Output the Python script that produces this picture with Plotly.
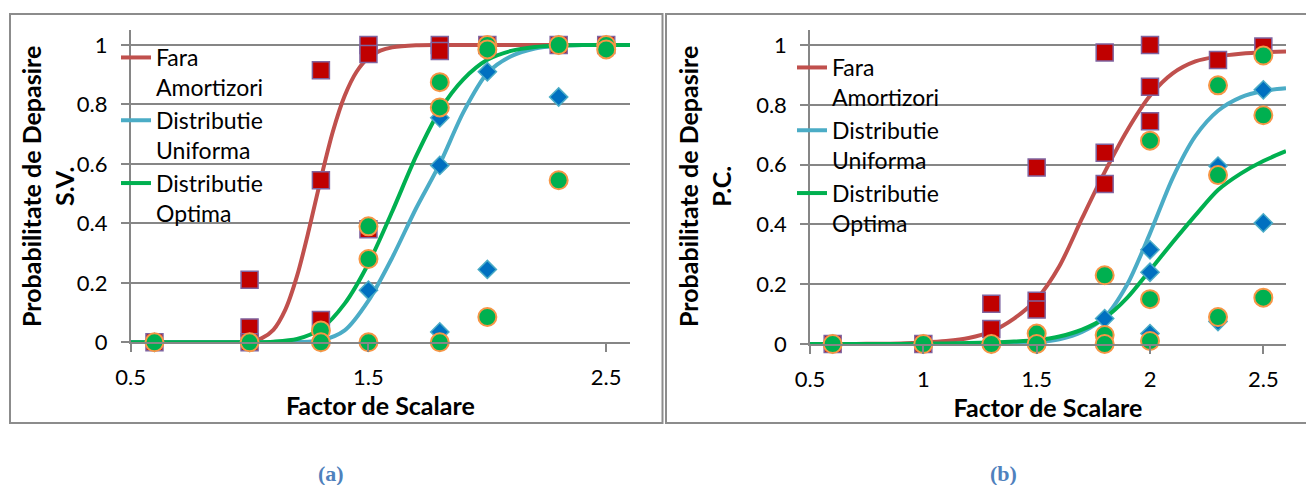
import plotly.graph_objects as go

W, H = 1306, 485

# ---------------- data: panel (a) S.V. ----------------
a_sq_x = [0.6, 1.0, 1.0, 1.0, 1.3, 1.3, 1.3, 1.5, 1.5, 1.5, 1.8, 1.8, 2.0, 2.3, 2.5]
a_sq_y = [0, 0.21, 0.05, 0, 0.915, 0.545, 0.075, 1.0, 0.97, 0.38, 1.0, 0.98, 1.0, 1.0, 1.0]
a_dm_x = [0.6, 1.0, 1.3, 1.5, 1.8, 1.8, 1.8, 2.0, 2.0, 2.3, 2.3, 2.5]
a_dm_y = [0, 0, 0, 0.175, 0.755, 0.595, 0.035, 0.91, 0.245, 1.0, 0.825, 1.0]
a_ci_x = [0.6, 1.0, 1.3, 1.3, 1.5, 1.5, 1.5, 1.8, 1.8, 1.8, 2.0, 2.0, 2.0, 2.3, 2.3, 2.5, 2.5]
a_ci_y = [0, 0, 0.04, 0, 0.39, 0.28, 0, 0.875, 0.79, 0, 1.0, 0.985, 0.085, 1.0, 0.545, 1.0, 0.985]

a_red_cx = [0.5, 0.6, 0.7, 0.8, 0.9, 1.0, 1.05, 1.1, 1.15, 1.2, 1.25, 1.3, 1.35, 1.4, 1.45,
            1.5, 1.55, 1.6, 1.7, 1.8, 2.0, 2.2, 2.4, 2.6]
a_red_cy = [0, 0, 0, 0, 0.0005, 0.003, 0.013, 0.042, 0.109, 0.224, 0.38, 0.551, 0.708, 0.829, 0.91,
            0.957, 0.981, 0.992, 0.999, 1, 1, 1, 1, 1]

curve_x = [0.5, 0.6, 0.7, 0.8, 0.9, 1.0, 1.1, 1.2, 1.3, 1.4, 1.5, 1.6, 1.7, 1.8, 1.9, 2.0,
           2.1, 2.2, 2.3, 2.4, 2.5, 2.6]
a_blue_cy = [0, 0, 0, 0, 0, 0, 0.0002, 0.001, 0.006, 0.04, 0.14, 0.285, 0.45, 0.6, 0.775, 0.905,
             0.962, 0.988, 0.997, 1, 1, 1]
a_green_cy = [0, 0, 0, 0, 0, 0.0002, 0.002, 0.011, 0.045, 0.13, 0.265, 0.44, 0.625, 0.78, 0.885, 0.95,
              0.98, 0.993, 0.998, 1, 1, 1]

# ---------------- data: panel (b) P.C. ----------------
b_sq_x = [0.6, 1.0, 1.3, 1.3, 1.5, 1.5, 1.5, 1.8, 1.8, 1.8, 2.0, 2.0, 2.0, 2.3, 2.5]
b_sq_y = [0, 0, 0.135, 0.05, 0.59, 0.145, 0.115, 0.975, 0.64, 0.535, 1.0, 0.86, 0.745, 0.95, 0.995]
b_dm_x = [0.6, 1.0, 1.3, 1.5, 1.8, 2.0, 2.0, 2.0, 2.3, 2.3, 2.5, 2.5]
b_dm_y = [0, 0, 0, 0, 0.085, 0.315, 0.24, 0.035, 0.595, 0.075, 0.85, 0.405]
b_ci_x = [0.6, 1.0, 1.3, 1.5, 1.5, 1.8, 1.8, 1.8, 2.0, 2.0, 2.0, 2.3, 2.3, 2.3, 2.5, 2.5, 2.5]
b_ci_y = [0, 0, 0, 0.035, 0, 0.23, 0.03, 0, 0.68, 0.15, 0.01, 0.865, 0.565, 0.09, 0.965, 0.765, 0.155]

b_red_cy = [0, 0, 0, 0.001, 0.002, 0.005, 0.01, 0.02, 0.042, 0.085, 0.15, 0.26, 0.42, 0.575, 0.715, 0.83,
            0.905, 0.945, 0.962, 0.971, 0.976, 0.978]
b_blue_cy = [0, 0, 0, 0, 0, 0, 0, 0.001, 0.002, 0.003, 0.006, 0.016, 0.04, 0.09, 0.2, 0.37,
             0.555, 0.695, 0.78, 0.825, 0.846, 0.855]
b_green_cy = [0, 0, 0, 0, 0, 0.001, 0.002, 0.003, 0.005, 0.008, 0.013, 0.025, 0.048, 0.087, 0.155, 0.247,
              0.34, 0.43, 0.515, 0.57, 0.612, 0.645]

series_names = ["Fara<br>Amortizori", "Distributie<br>Uniforma", "Distributie<br>Optima"]
y_titles = ["Probabilitate de Depasire<br>S.V.", "Probabilitate de Depasire<br>P.C."]
x_title = "Factor de Scalare"
captions = ["(a)", "(b)"]
y_ticks = [0, 0.2, 0.4, 0.6, 0.8, 1]
a_x_ticks = [0.5, 1.5, 2.5]
b_x_ticks = [0.5, 1, 1.5, 2, 2.5]

# ---------------- styles ----------------
FONT = "Lato"
LINE_COLORS = ["#C0504D", "#4BACC6", "#00B050"]
GRID = "#868686"

def px_x(p):
    return p / W

def px_y(p):
    return 1 - p / H

fig = go.Figure()

panels = [
    ("x", "y", "legend", [a_red_cx, curve_x, curve_x], [a_red_cy, a_blue_cy, a_green_cy],
     (a_sq_x, a_sq_y), (a_dm_x, a_dm_y), (a_ci_x, a_ci_y)),
    ("x2", "y2", "legend2", [curve_x, curve_x, curve_x], [b_red_cy, b_blue_cy, b_green_cy],
     (b_sq_x, b_sq_y), (b_dm_x, b_dm_y), (b_ci_x, b_ci_y)),
]

for xa, ya, leg, cxs, cys, sq, dm, ci in panels:
    for name, cx, cy, col in zip(series_names, cxs, cys, LINE_COLORS):
        fig.add_trace(go.Scatter(
            x=cx, y=cy, mode="lines", name=name, xaxis=xa, yaxis=ya, legend=leg,
            line=dict(color=col, width=4, shape="spline", smoothing=0.8),
            cliponaxis=False, hoverinfo="skip"))
    fig.add_trace(go.Scatter(
        x=sq[0], y=sq[1], mode="markers", xaxis=xa, yaxis=ya, showlegend=False,
        marker=dict(symbol="square", size=17, color="#C00000",
                    line=dict(color="#7F64A0", width=1.5)),
        cliponaxis=False))
    fig.add_trace(go.Scatter(
        x=dm[0], y=dm[1], mode="markers", xaxis=xa, yaxis=ya, showlegend=False,
        marker=dict(symbol="diamond", size=14, color="#0070C0",
                    line=dict(color="#4BACC6", width=1.5)),
        cliponaxis=False))
    fig.add_trace(go.Scatter(
        x=ci[0], y=ci[1], mode="markers", xaxis=xa, yaxis=ya, showlegend=False,
        marker=dict(symbol="circle", size=18, color="#00B050",
                    line=dict(color="#F79646", width=2)),
        cliponaxis=False))

tickfont = dict(family=FONT, size=22, color="black")
titlefont = dict(family=FONT, size=25, color="black", weight="bold")

def xaxis_cfg(domain, ticks, anchor):
    return dict(domain=domain, anchor=anchor, range=[0.5, 2.6], tickmode="array", tickvals=ticks,
                ticktext=[f"{t:g}" for t in ticks], automargin=False,
                ticks="outside", ticklen=8, tickwidth=1.5, tickcolor=GRID,
                showline=True, linecolor=GRID, linewidth=1.5, showgrid=False, zeroline=False,
                tickfont=tickfont, ticklabelstandoff=7,
                title=dict(text=f"<b>{x_title}</b>", font=titlefont, standoff=2))

def yaxis_cfg(domain, anchor):
    return dict(domain=domain, anchor=anchor, range=[0, 1.05], tickmode="array", tickvals=y_ticks,
                ticktext=[f"{t:g}" for t in y_ticks], automargin=False,
                ticks="outside", ticklen=8, tickwidth=1.5, tickcolor=GRID,
                showline=True, linecolor=GRID, linewidth=1.5,
                showgrid=True, gridcolor=GRID, gridwidth=1.5, zeroline=False,
                tickfont=tickfont, ticklabelstandoff=9)

legend_common = dict(bgcolor="rgba(0,0,0,0)", borderwidth=0, xanchor="left", yanchor="top",
                     valign="top", font=dict(family=FONT, size=23, color="black"),
                     tracegroupgap=0, itemclick=False)

fig.update_layout(
    template="none",
    width=W, height=H, autosize=False,
    margin=dict(l=0, r=0, t=0, b=0, pad=0, autoexpand=False),
    paper_bgcolor="white", plot_bgcolor="white",
    font=dict(family=FONT),
    xaxis=xaxis_cfg([px_x(130.7), px_x(630)], a_x_ticks, "y"),
    yaxis=yaxis_cfg([px_y(342.3), px_y(30.1)], "x"),
    xaxis2=xaxis_cfg([px_x(810), px_x(1286)], b_x_ticks, "y2"),
    yaxis2=yaxis_cfg([px_y(344), px_y(30.05)], "x2"),
    legend=dict(x=px_x(116), y=px_y(36), **legend_common),
    legend2=dict(x=px_x(792), y=px_y(46), **legend_common),
    showlegend=True,
)

# y-axis titles (two lines, overlapping the tick area as in the original)
for txt, cx in zip(y_titles, [47.5, 704.5]):
    fig.add_annotation(text=f"<b>{txt}</b>", xref="paper", yref="paper",
                       x=px_x(cx), y=px_y(186.5), xanchor="center", yanchor="middle",
                       textangle=-90, showarrow=False, font=titlefont)

# captions
for txt, cx in zip(captions, [330.7, 1004]):
    fig.add_annotation(text=f"<b>{txt}</b>", xref="paper", yref="paper",
                       x=px_x(cx), y=px_y(473), xanchor="center", yanchor="middle",
                       showarrow=False,
                       font=dict(family="Liberation Serif", size=22, color="#4F81BD"))

# panel frames
fig.add_shape(type="rect", xref="paper", yref="paper",
              x0=px_x(10), x1=px_x(662.5), y0=px_y(423), y1=px_y(14),
              line=dict(color="#8C8C8C", width=2), layer="below")
fig.add_shape(type="rect", xref="paper", yref="paper",
              x0=px_x(666), x1=px_x(1312), y0=px_y(423), y1=px_y(14),
              line=dict(color="#8C8C8C", width=2), layer="below")

fig.write_html("out.html", config={"displayModeBar": False},
               post_script="document.body.style.margin='0px';document.body.style.overflow='hidden';")
